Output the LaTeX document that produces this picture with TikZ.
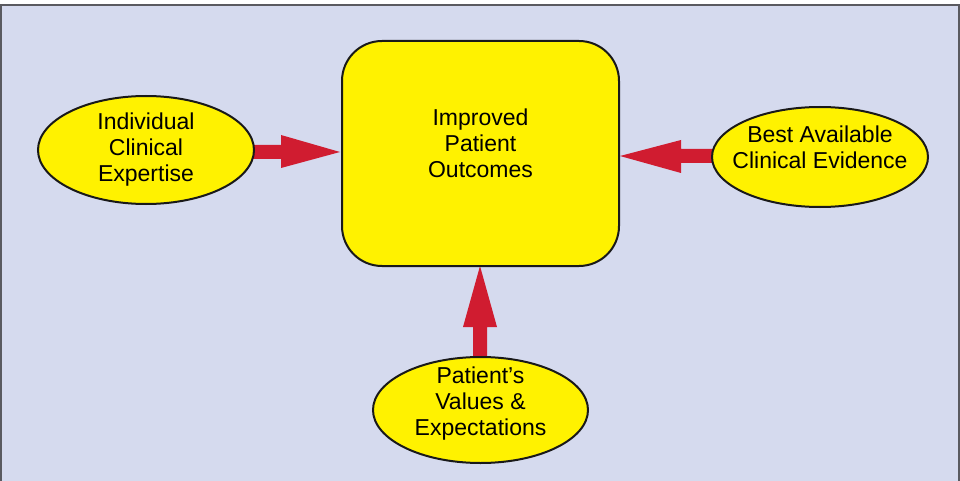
\documentclass[tikz,border=0pt]{standalone}
\usetikzlibrary{shapes.geometric}
\usepackage{fontspec}
\setmainfont{Liberation Sans}
\definecolor{bgc}{HTML}{D5DAEE}
\definecolor{yel}{HTML}{FFF200}
\definecolor{arr}{HTML}{D01C30}
\definecolor{frame}{HTML}{5A5A60}
\tikzset{
  lbl/.style={align=center,font=\fontsize{23}{26}\selectfont,text=black,inner sep=0pt},
  oval/.style={draw=black!90,line width=2pt,fill=yel},
  bigarrow/.style={fill=arr,draw=none},
}
\begin{document}
\begin{tikzpicture}[x=1pt,y=-1pt]
\useasboundingbox (0,0) rectangle (960,481);
\begin{scope}
\clip (0,0) rectangle (960,481);
\draw[fill=bgc,draw=frame,line width=1.5pt] (1,5) rectangle (959,484);
\end{scope}
\coordinate (cleft) at (340,152);
\coordinate (cright) at (620,156);
\coordinate (cbot) at (480,266);
% arrows (drawn first, ovals cover their tails)
\fill[bigarrow] (200,145) -- (281,145) -- (281,135) -- (cleft) -- (281,168) -- (281,159) -- (200,159) -- cycle;
\fill[bigarrow] (760,149) -- (681,149) -- (681,140) -- (cright) -- (681,173) -- (681,163) -- (760,163) -- cycle;
\fill[bigarrow] (473,400) -- (473,327) -- (463,327) -- (cbot) -- (497,327) -- (487,327) -- (487,400) -- cycle;
% central box
\draw[oval,rounded corners=40pt] (342,41) rectangle (619,266);
\node[lbl] (center) at (480.5,143) {Improved\\Patient\\Outcomes};
% ellipses
\node[oval,ellipse,minimum width=216pt,minimum height=108pt,inner sep=0pt] (ind) at (146,150) {};
\node[lbl] (indt) at (146,150) {Individual\\Clinical\\Expertise};
\node[oval,ellipse,minimum width=216pt,minimum height=100pt,inner sep=0pt] (best) at (820,157) {};
\node[lbl] (bestt) at (820,147) {Best Available\\Clinical Evidence};
\node[oval,ellipse,minimum width=215pt,minimum height=106pt,inner sep=0pt] (pat) at (480.5,410) {};
\node[lbl] (patt) at (480.5,404) {Patient's\\Values \&\\Expectations};
\end{tikzpicture}
\end{document}
